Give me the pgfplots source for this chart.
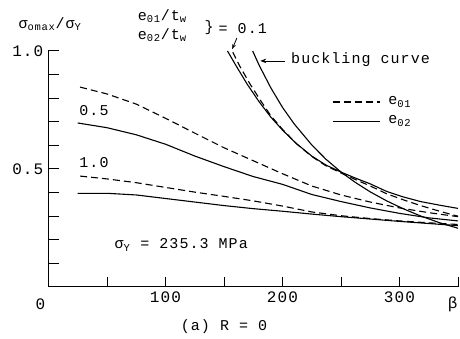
\documentclass[border=0pt]{standalone}
\usepackage{fontspec}
\setmainfont{Liberation Mono}[LetterSpace=7]
\usepackage{pgfplots}
\pgfplotsset{compat=1.18}
\usetikzlibrary{arrows.meta}
\pgfplotstableread{
x y
27 0.847
50 0.818
75 0.775
100 0.715
125 0.652
150 0.590
175 0.535
200 0.480
225 0.428
250 0.390
275 0.360
300 0.335
325 0.315
350 0.298
}\halfdashed
\pgfplotstableread{
x y
25 0.695
50 0.675
75 0.645
100 0.605
125 0.555
150 0.510
175 0.468
200 0.435
225 0.392
250 0.362
275 0.335
300 0.312
325 0.293
350 0.280
}\halfsolid
\pgfplotstableread{
x y
27 0.470
50 0.458
75 0.442
100 0.422
125 0.402
150 0.384
175 0.365
200 0.343
225 0.318
250 0.302
275 0.290
300 0.280
325 0.272
350 0.265
}\onedashed
\pgfplotstableread{
x y
25 0.397
50 0.397
75 0.390
100 0.375
125 0.360
150 0.345
175 0.332
200 0.321
225 0.309
250 0.298
275 0.288
300 0.278
325 0.269
350 0.260
}\onesolid
\pgfplotstableread{
x y
153 1.000
160 0.940
170 0.858
180 0.785
190 0.720
200 0.665
212 0.607
225 0.555
237 0.517
250 0.487
262 0.462
275 0.437
289 0.405
303 0.382
318 0.362
335 0.346
350 0.333
}\tenthsolid
\pgfplotstableread{
x y
157.5 0.995
163 0.940
172 0.862
181 0.792
190 0.726
200 0.668
212 0.607
225 0.553
237 0.514
250 0.483
262 0.456
275 0.428
289 0.395
303 0.370
318 0.345
335 0.320
350 0.300
}\tenthdashed
\pgfplotstableread{
x y
174.5 1.000
180 0.940
190 0.844
200 0.761
210 0.691
225 0.602
237 0.542
250 0.487
262 0.444
275 0.403
289 0.365
303 0.332
318 0.301
335 0.271
350 0.249
}\buckling
\begin{document}
\fontsize{15}{17}\selectfont
\begin{tikzpicture}
\path[use as bounding box] (-48.5pt,-52pt) rectangle (411.5pt,287pt);
\begin{axis}[
  at={(0pt,0pt)}, anchor=south west,
  scale only axis, width=409.5pt, height=236pt,
  xmin=0, xmax=350, ymin=0, ymax=1,
  axis x line=bottom, axis y line=left,
  axis line style={line width=1pt,-},
  tick align=inside, major tick length=10pt,
  every tick/.style={line width=1pt, black},
  xtick={0,50,100,150,200,250,300,350},
  xticklabels={,,100,,200,,300,},
  ytick={0,0.1,0.2,0.3,0.4,0.5,0.6,0.7,0.8,0.9,1.0},
  yticklabels={,,,,,0.5,,,,,1.0},
  ticklabel style={font=\fontsize{16}{16}\selectfont},
  /pgf/number format/assume math mode=true,
  clip=false,
  every axis plot/.append style={line width=1.1pt, black},
]
\addplot[no marks, dash pattern=on 7pt off 4pt] table {\halfdashed};
\addplot[no marks] table {\halfsolid};
\addplot[no marks, dash pattern=on 7pt off 4pt] table {\onedashed};
\addplot[no marks] table {\onesolid};
\addplot[no marks] table {\tenthsolid};
\addplot[no marks, dash pattern=on 7pt off 4pt] table {\tenthdashed};
\addplot[no marks] table {\buckling};

\node[anchor=west] at (axis cs:-30,1.114) {σ\textsubscript{omax}/σ\textsubscript{Y}};
\node[anchor=west] at (axis cs:72,1.148) {e\textsubscript{01}/t\textsubscript{w}};
\node[anchor=west] at (axis cs:72,1.068) {e\textsubscript{02}/t\textsubscript{w}};
\node[anchor=west] at (axis cs:129,1.097) {\}};
\node[anchor=west] at (axis cs:141,1.097) {= 0.1};
\draw[-{Stealth[length=5pt]}, line width=0.8pt] (axis cs:161,1.055) -- (axis cs:157,1.008);
\draw[-{Stealth[length=6pt]}, line width=0.8pt] (axis cs:202,0.958) -- (axis cs:181,0.958);
\node[anchor=west] at (axis cs:203,0.962) {buckling curve};
\draw[line width=1.1pt, dash pattern=on 7pt off 4pt] (axis cs:243,0.784) -- (axis cs:283,0.784);
\node[anchor=west] at (axis cs:286,0.784) {e\textsubscript{01}};
\draw[line width=1.1pt] (axis cs:243,0.703) -- (axis cs:283,0.703);
\node[anchor=west] at (axis cs:286,0.703) {e\textsubscript{02}};
\node[anchor=west] at (axis cs:22,0.746) {0.5};
\node[anchor=west] at (axis cs:22,0.528) {1.0};
\node[anchor=west] at (axis cs:52,0.178) {σ\textsubscript{Y} = 235.3 MPa};
\node at (axis cs:150,-0.17) {(a) R = 0};
\node[font=\fontsize{16}{16}\selectfont] at (axis cs:-7,-0.072) {0};
\node[font=\fontsize{16}{16}\selectfont] at (axis cs:345.5,-0.072) {β};
\end{axis}
\end{tikzpicture}
\end{document}
